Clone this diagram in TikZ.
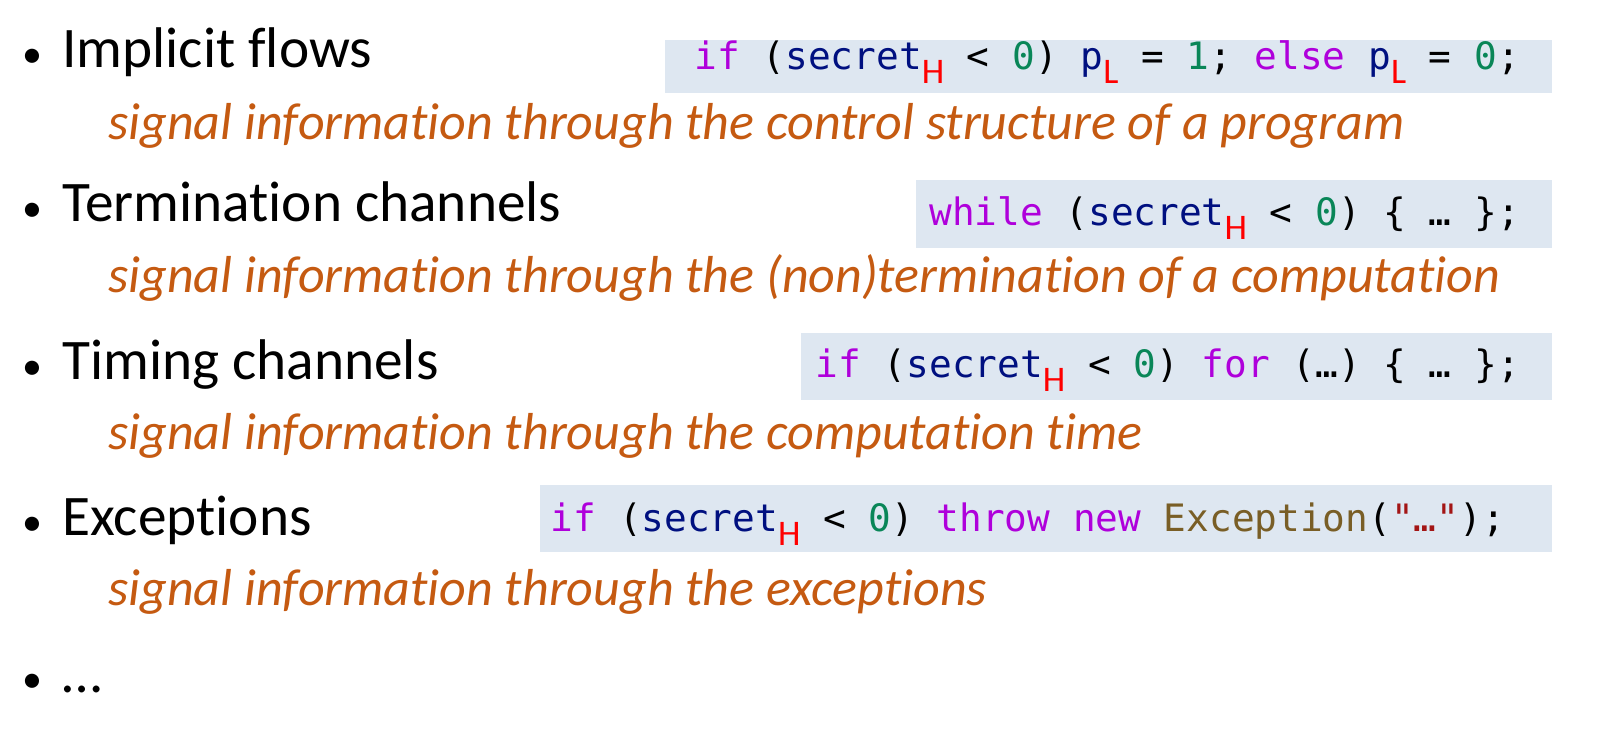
\documentclass[tikz,border=0pt]{standalone}
\usepackage{fontspec}
\setmainfont{Carlito}[Ligatures=NoCommon]
\newfontfamily\codefont{DejaVu Sans Mono}
\definecolor{kw}{HTML}{AF00DB}
\definecolor{var}{HTML}{001080}
\definecolor{num}{HTML}{098658}
\definecolor{cls}{HTML}{795E26}
\definecolor{strc}{HTML}{A31515}
\definecolor{desc}{HTML}{C55A11}
\definecolor{boxc}{HTML}{DEE7F1}
\newcommand{\kw}[1]{\textcolor{kw}{#1}}
\newcommand{\vr}[1]{\textcolor{var}{#1}}
\newcommand{\nm}[1]{\textcolor{num}{#1}}
\newcommand{\lbl}[1]{\raisebox{-10pt}{\textcolor{red}{\fontsize{27}{27}\selectfont\rmfamily #1}}}
\tikzset{
  item/.style={anchor=base west, font=\fontsize{43}{46}\selectfont, inner sep=0},
  bul/.style={anchor=base west, font=\fontsize{30}{34}\selectfont, inner sep=0},
  dsc/.style={anchor=base west, font=\fontsize{39}{44}\selectfont\itshape, text=desc, inner sep=0},
  code/.style={anchor=base east, font=\fontsize{28.3}{32}\selectfont\codefont, inner sep=0},
  cbox/.style={fill=boxc, draw=none}
}
\begin{document}
\begin{tikzpicture}[x=0.75pt,y=-0.75pt]
\fill[cbox] (665,40) rectangle (1552,93);
\fill[cbox] (916,180) rectangle (1552,248);
\fill[cbox] (801,333) rectangle (1552,400);
\fill[cbox] (540,485) rectangle (1552,552);

\node[bul] (b1) at (22,68) {•};
\node[item] (t1) at (62,68) {Implicit flows};
\node[dsc] (d1) at (108,140) {signal information through the control structure of a program};
\node[code] (c1) at (1520,70) {\kw{if} (\vr{secret}\lbl{H} < \nm{0}) \vr{p}\lbl{L} = \nm{1}; \kw{else} \vr{p}\lbl{L} = \nm{0};};

\node[bul] (b2) at (22,222) {•};
\node[item] (t2) at (62,222) {Termination channels};
\node[dsc] (d2) at (108,293) {signal information through the (non)termination of a computation};
\node[code] (c2) at (1520,226) {\kw{while} (\vr{secret}\lbl{H} < \nm{0}) \{ … \};};

\node[bul] (b3) at (22,380) {•};
\node[item] (t3) at (62,380) {Timing channels};
\node[dsc] (d3) at (108,450) {signal information through the computation time};
\node[code] (c3) at (1520,378) {\kw{if} (\vr{secret}\lbl{H} < \nm{0}) \kw{for} (…) \{ … \};};

\node[bul] (b4) at (22,535) {•};
\node[item] (t4) at (62,535) {Exceptions};
\node[dsc] (d4) at (108,605) {signal information through the exceptions};
\node[code] (c4) at (1505,532) {\kw{if} (\vr{secret}\lbl{H} < \nm{0}) \kw{throw} \kw{new} \textcolor{cls}{Exception}(\textcolor{strc}{"…"});};

\node[bul] (b5) at (22,692) {•};
\node[item] (t5) at (62,692) {…};
\pgfresetboundingbox
\useasboundingbox (0,0) rectangle (1613,737);
\end{tikzpicture}
\end{document}
